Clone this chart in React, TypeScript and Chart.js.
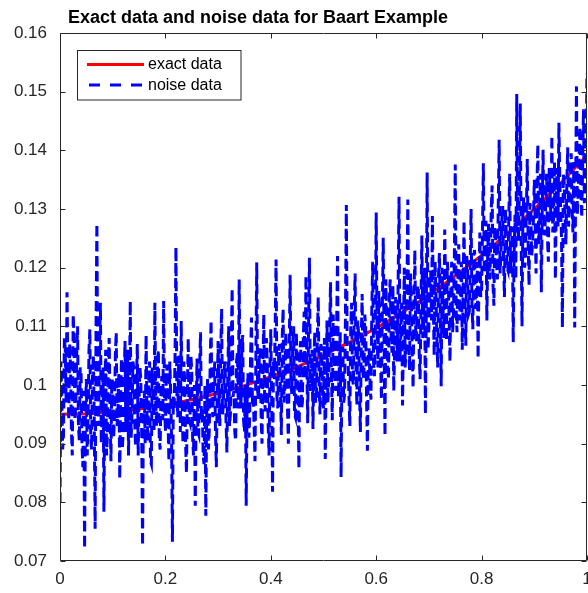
import { useEffect, useRef } from "react";
import { Chart, registerables } from "chart.js";

Chart.register(...registerables);

const TITLE = "Exact data and noise data for Baart Example";
const LEGEND_LABELS = ["exact data", "noise data"];
const X_TICKS = [0, 0.2, 0.4, 0.6, 0.8, 1];
const Y_TICKS = [0.07, 0.08, 0.09, 0.1, 0.11, 0.12, 0.13, 0.14, 0.15, 0.16];

// exact data sampled at x = 0, 0.05, ..., 1
const EXACT = [
  0.095, 0.0951, 0.0954, 0.0959, 0.0966, 0.0975, 0.0986, 0.0999, 0.1014, 0.1031, 0.1051,
  0.1073, 0.1097, 0.1124, 0.1153, 0.1186, 0.1221, 0.1259, 0.13, 0.1344, 0.1392,
];

// noise data sampled evenly on [0, 1] (601 samples)
const NOISE_A = [
  0.08, 0.104, 0.0985, 0.089, 0.0915, 0.108, 0.106, 0.097, 0.1158, 0.101,
  0.094, 0.107, 0.103, 0.092, 0.088, 0.112, 0.1085, 0.094, 0.0965, 0.105,
  0.11, 0.093, 0.0905, 0.103, 0.102, 0.09, 0.086, 0.099, 0.0721, 0.096,
  0.101, 0.088, 0.095, 0.106, 0.1095, 0.091, 0.089, 0.102, 0.105, 0.094,
  0.0755, 0.109, 0.1275, 0.098, 0.093, 0.106, 0.114, 0.09, 0.097, 0.103,
  0.0784, 0.099, 0.106, 0.088, 0.0915, 0.104, 0.108, 0.095, 0.087, 0.101,
];
const NOISE_B = [
  0.1005, 0.091, 0.094, 0.105, 0.109, 0.093, 0.096, 0.102, 0.084, 0.098,
  0.1045, 0.089, 0.0925, 0.101, 0.1075, 0.092, 0.0985, 0.106, 0.088, 0.099,
  0.1143, 0.091, 0.095, 0.104, 0.103, 0.094, 0.0895, 0.1, 0.107, 0.088,
  0.0975, 0.103, 0.101, 0.092, 0.0726, 0.097, 0.099, 0.09, 0.1085, 0.095,
  0.0905, 0.101, 0.104, 0.087, 0.0865, 0.103, 0.098, 0.092, 0.114, 0.097,
  0.093, 0.104, 0.106, 0.091, 0.089, 0.099, 0.1015, 0.094, 0.1143, 0.098,
];
const NOISE_C = [
  0.092, 0.101, 0.1035, 0.094, 0.087, 0.104, 0.099, 0.091, 0.0733, 0.098,
  0.096, 0.105, 0.1235, 0.099, 0.0945, 0.103, 0.105, 0.092, 0.1109, 0.097,
  0.09, 0.104, 0.1005, 0.09, 0.085, 0.099, 0.108, 0.094, 0.0935, 0.105,
  0.1025, 0.091, 0.088, 0.1, 0.0794, 0.096, 0.1045, 0.092, 0.0915, 0.103,
  0.109, 0.094, 0.096, 0.088, 0.0865, 0.1, 0.0777, 0.095, 0.101, 0.089,
  0.0925, 0.104, 0.111, 0.097, 0.0945, 0.102, 0.104, 0.092, 0.086, 0.099,
];
const NOISE_D = [
  0.1075, 0.097, 0.093, 0.106, 0.113, 0.095, 0.0965, 0.103, 0.104, 0.094,
  0.0885, 0.101, 0.11, 0.093, 0.095, 0.107, 0.1165, 0.098, 0.099, 0.092,
  0.0905, 0.104, 0.1055, 0.096, 0.118, 0.101, 0.096, 0.106, 0.1085, 0.094,
  0.092, 0.1, 0.0794, 0.097, 0.102, 0.091, 0.0945, 0.105, 0.1115, 0.098,
  0.0985, 0.093, 0.087, 0.104, 0.1209, 0.099, 0.0975, 0.106, 0.106, 0.094,
  0.09, 0.102, 0.112, 0.097, 0.0955, 0.108, 0.1035, 0.093, 0.088, 0.103,
];
const NOISE_E = [
  0.1095, 0.097, 0.0818, 0.104, 0.101, 0.11, 0.1214, 0.098, 0.096, 0.106,
  0.107, 0.099, 0.0915, 0.108, 0.113, 0.097, 0.0995, 0.109, 0.105, 0.096,
  0.09, 0.106, 0.1188, 0.1, 0.0985, 0.107, 0.11, 0.095, 0.0945, 0.109,
  0.104, 0.098, 0.0857, 0.105, 0.1075, 0.096, 0.097, 0.108, 0.1125, 0.101,
  0.1186, 0.104, 0.0935, 0.11, 0.1217, 0.099, 0.101, 0.106, 0.0925, 0.103,
  0.109, 0.097, 0.098, 0.108, 0.115, 0.1, 0.095, 0.107, 0.106, 0.098,
];
const NOISE_F = [
  0.096, 0.108, 0.0874, 0.101, 0.111, 0.097, 0.1005, 0.109, 0.1175, 0.102,
  0.094, 0.112, 0.108, 0.1, 0.099, 0.111, 0.122, 0.098, 0.103, 0.109,
  0.0843, 0.103, 0.1065, 0.097, 0.0985, 0.112, 0.1307, 0.105, 0.1045, 0.098,
  0.093, 0.11, 0.114, 0.101, 0.1, 0.113, 0.119, 0.103, 0.0965, 0.111,
  0.1085, 0.099, 0.092, 0.108, 0.1155, 0.101, 0.102, 0.112, 0.11, 0.098,
  0.0888, 0.106, 0.106, 0.1, 0.0975, 0.113, 0.121, 0.104, 0.1015, 0.11,
];
const NOISE_G = [
  0.1294, 0.109, 0.103, 0.116, 0.1125, 0.104, 0.0975, 0.113, 0.1251, 0.107,
  0.0913, 0.118, 0.1095, 0.103, 0.101, 0.115, 0.118, 0.108, 0.1055, 0.117,
  0.099, 0.106, 0.115, 0.112, 0.104, 0.118, 0.1321, 0.104, 0.1085, 0.114,
  0.0965, 0.109, 0.12, 0.103, 0.106, 0.116, 0.1316, 0.108, 0.1025, 0.119,
  0.114, 0.106, 0.0995, 0.115, 0.123, 0.109, 0.1075, 0.117, 0.1165, 0.105,
  0.101, 0.114, 0.1255, 0.108, 0.109, 0.12, 0.095, 0.112, 0.1362, 0.106,
];
const NOISE_H = [
  0.11, 0.118, 0.1195, 0.111, 0.1288, 0.114, 0.105, 0.121, 0.116, 0.109,
  0.103, 0.119, 0.1225, 0.112, 0.0998, 0.12, 0.114, 0.108, 0.1265, 0.117,
  0.1075, 0.121, 0.1185, 0.111, 0.104, 0.117, 0.121, 0.109, 0.112, 0.122,
  0.1376, 0.113, 0.109, 0.119, 0.124, 0.111, 0.115, 0.121, 0.106, 0.117,
  0.128, 0.113, 0.1067, 0.122, 0.1205, 0.112, 0.1125, 0.12, 0.13, 0.114,
  0.1095, 0.122, 0.123, 0.113, 0.1145, 0.121, 0.1045, 0.118, 0.126, 0.115,
];
const NOISE_I = [
  0.116, 0.126, 0.1378, 0.12, 0.119, 0.128, 0.111, 0.123, 0.1275, 0.118,
  0.121, 0.13, 0.134, 0.117, 0.1135, 0.127, 0.125, 0.121, 0.118, 0.131,
  0.1418, 0.119, 0.122, 0.128, 0.1305, 0.121, 0.115, 0.13, 0.1265, 0.12,
  0.1195, 0.129, 0.136, 0.119, 0.123, 0.127, 0.1073, 0.122, 0.129, 0.118,
  0.1496, 0.128, 0.1245, 0.133, 0.148, 0.125, 0.11, 0.129, 0.132, 0.12,
  0.1215, 0.13, 0.1385, 0.124, 0.117, 0.131, 0.13, 0.122, 0.124, 0.128,
];
const NOISE_J = [
  0.135, 0.128, 0.119, 0.134, 0.141, 0.124, 0.127, 0.136, 0.1158, 0.129,
  0.1401, 0.127, 0.1255, 0.131, 0.136, 0.125, 0.121, 0.137, 0.133, 0.128,
  0.1425, 0.126, 0.1285, 0.138, 0.118, 0.131, 0.137, 0.127, 0.1447, 0.135,
  0.13, 0.125, 0.1098, 0.136, 0.1345, 0.129, 0.124, 0.134, 0.1405, 0.127,
  0.131, 0.136, 0.1395, 0.13, 0.126, 0.138, 0.1098, 0.132, 0.1509, 0.129,
  0.133, 0.139, 0.144, 0.133, 0.1285, 0.137, 0.147, 0.131, 0.135, 0.14,
  0.1532,
];

const NOISE = [
  ...NOISE_A, ...NOISE_B, ...NOISE_C, ...NOISE_D, ...NOISE_E,
  ...NOISE_F, ...NOISE_G, ...NOISE_H, ...NOISE_I, ...NOISE_J,
];

const AXIS = "#262626";
const FONT = "'Liberation Sans', Arial, Helvetica, sans-serif";

const fmt = (v: number) => String(Number(v.toFixed(2)));

const framePlugin = {
  id: "octaveFrame",
  afterDatasetsDraw(chart: any) {
    const { ctx, chartArea: a, scales } = chart;
    const xs = scales.x;
    const ys = scales.y;
    ctx.save();
    ctx.strokeStyle = AXIS;
    ctx.lineWidth = 1;
    ctx.setLineDash([]);
    const L = Math.round(a.left) + 0.5;
    const R = Math.round(a.right) - 0.5;
    const T = Math.round(a.top) + 0.5;
    const B = Math.round(a.bottom) - 0.5;
    ctx.beginPath();
    ctx.rect(L, T, R - L, B - T);
    const tl = 5;
    X_TICKS.forEach((v) => {
      const px = Math.round(xs.getPixelForValue(v)) + 0.5;
      ctx.moveTo(px, B);
      ctx.lineTo(px, B - tl);
      ctx.moveTo(px, T);
      ctx.lineTo(px, T + tl);
    });
    Y_TICKS.forEach((v) => {
      const py = Math.round(ys.getPixelForValue(v)) + 0.5;
      ctx.moveTo(L, py);
      ctx.lineTo(L + tl, py);
      ctx.moveTo(R, py);
      ctx.lineTo(R - tl, py);
    });
    ctx.stroke();

    // title
    ctx.fillStyle = "#000";
    ctx.font = `bold 18px ${FONT}`;
    ctx.textAlign = "left";
    ctx.textBaseline = "alphabetic";
    ctx.fillText(TITLE, 68, 23);

    // legend
    const lx = 77.5, ly = 50.5, lw = 163.5, lh = 49.5;
    ctx.fillStyle = "#fff";
    ctx.fillRect(lx, ly, lw, lh);
    ctx.strokeStyle = AXIS;
    ctx.lineWidth = 1;
    ctx.strokeRect(lx, ly, lw, lh);

    ctx.lineWidth = 3;
    ctx.strokeStyle = "#ff0000";
    ctx.beginPath();
    ctx.moveTo(87, 64.5);
    ctx.lineTo(144, 64.5);
    ctx.stroke();

    ctx.strokeStyle = "#0000ff";
    ctx.setLineDash([11, 10]);
    ctx.beginPath();
    ctx.moveTo(89, 85);
    ctx.lineTo(144, 85);
    ctx.stroke();
    ctx.setLineDash([]);

    ctx.fillStyle = "#000";
    ctx.font = `16px ${FONT}`;
    ctx.textBaseline = "middle";
    ctx.fillText(LEGEND_LABELS[0], 148, 65);
    ctx.fillText(LEGEND_LABELS[1], 148, 86);
    ctx.restore();
  },
};

export default function App() {
  const ref = useRef<HTMLCanvasElement | null>(null);

  useEffect(() => {
    document.body.style.margin = "0";
    const canvas = ref.current;
    if (!canvas) return;

    const exactPts = EXACT.map((y, i) => ({ x: i / (EXACT.length - 1), y }));
    const noisePts = NOISE.map((y, i) => ({ x: i / (NOISE.length - 1), y }));

    const chart = new Chart(canvas, {
      type: "line",
      data: {
        datasets: [
          {
            label: LEGEND_LABELS[1],
            data: noisePts,
            borderColor: "#0000ff",
            borderWidth: 3,
            borderDash: [10, 5],
            pointRadius: 0,
            tension: 0,
            fill: false,
            order: 0,
          },
          {
            label: LEGEND_LABELS[0],
            data: exactPts,
            borderColor: "#ff0000",
            borderWidth: 3,
            pointRadius: 0,
            tension: 0,
            fill: false,
            order: 1,
          },
        ],
      },
      options: {
        animation: false,
        responsive: false,
        devicePixelRatio: 1,
        layout: { padding: { top: 33, right: 1, left: 0, bottom: 0 } },
        plugins: {
          legend: { display: false },
          title: { display: false },
          tooltip: { enabled: false },
        },
        scales: {
          x: {
            type: "linear",
            min: 0,
            max: 1,
            grid: { display: false, drawTicks: false },
            border: { display: false },
            afterBuildTicks: (s: any) => {
              s.ticks = X_TICKS.map((v) => ({ value: v }));
            },
            afterFit: (s: any) => {
              s.height = 32;
              s.paddingLeft = 0;
              s.paddingRight = 0;
            },
            ticks: {
              color: AXIS,
              font: { family: FONT, size: 17 },
              padding: 8,
              maxRotation: 0,
              autoSkip: false,
              callback: (v: any) => fmt(Number(v)),
            },
          },
          y: {
            type: "linear",
            min: 0.07,
            max: 0.16,
            grid: { display: false, drawTicks: false },
            border: { display: false },
            afterBuildTicks: (s: any) => {
              s.ticks = Y_TICKS.map((v) => ({ value: v }));
            },
            afterFit: (s: any) => {
              s.width = 60;
              s.paddingTop = 0;
              s.paddingBottom = 0;
            },
            ticks: {
              color: AXIS,
              font: { family: FONT, size: 17 },
              padding: 13,
              autoSkip: false,
              callback: (v: any) => fmt(Number(v)),
            },
          },
        },
      },
      plugins: [framePlugin],
    });

    return () => chart.destroy();
  }, []);

  return <canvas ref={ref} width={588} height={593} style={{ display: "block" }} />;
}
